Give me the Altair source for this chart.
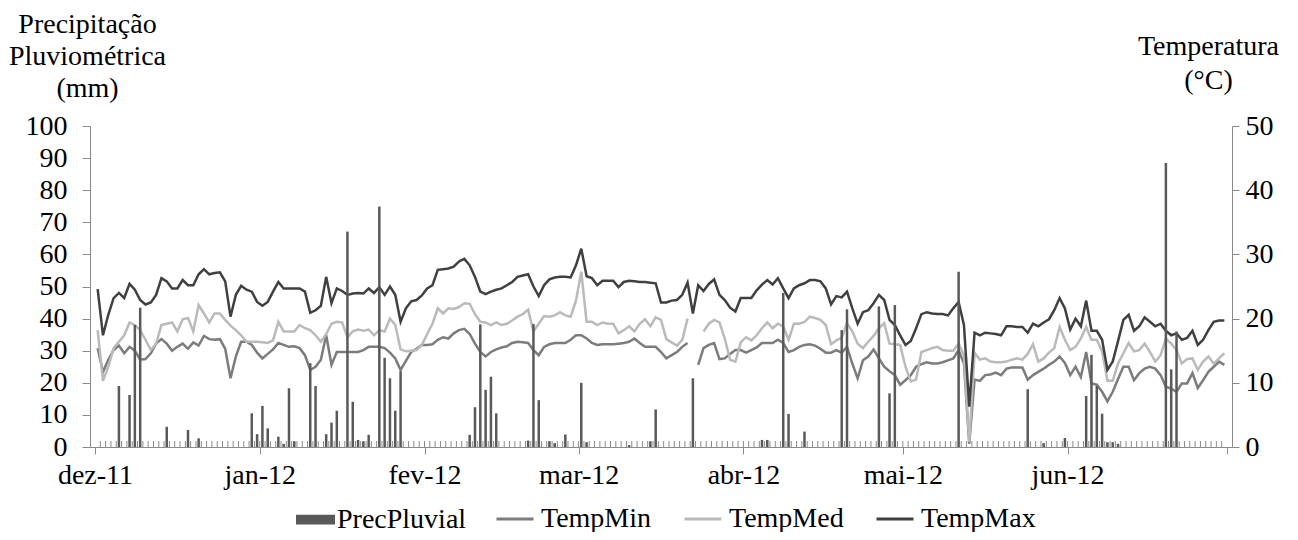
import altair as alt
import pandas as pd

# ---- data (daily, 2011-12-01 .. 2012-06-30) ----
tmax = [
    24.6, 17.4, 20.6, 23.2, 24.0, 23.2, 25.4, 24.5, 22.9, 22.2,
    22.5, 23.7, 26.3, 25.8, 24.7, 24.7, 26.0, 25.2, 25.2, 26.9,
    27.7, 26.9, 27.1, 27.2, 25.8, 20.3, 23.7, 25.1, 24.5, 24.2,
    22.6, 22.0, 22.6, 24.2, 25.7, 24.7, 24.7, 24.7, 24.7, 24.2,
    20.9, 21.3, 22.0, 26.5, 22.4, 24.7, 24.3, 23.7, 23.9, 24.0,
    23.9, 24.7, 24.0, 24.9, 23.7, 25.0, 23.7, 19.5, 21.6, 22.7,
    22.9, 23.6, 24.7, 25.2, 27.6, 27.7, 27.8, 28.1, 28.9, 29.3,
    28.3, 26.5, 24.2, 23.8, 24.2, 24.5, 24.7, 25.2, 25.7, 26.5,
    26.7, 26.9, 25.0, 23.5, 25.2, 26.1, 26.4, 26.5, 26.5, 26.4,
    28.3, 30.9, 26.6, 26.3, 25.2, 25.9, 25.9, 25.9, 24.9, 25.7,
    25.9, 25.8, 25.7, 25.7, 25.6, 25.5, 22.5, 22.5, 22.8, 22.9,
    23.7, 25.6, 20.8, 25.2, 24.3, 25.4, 26.1, 23.7, 22.9, 21.7,
    21.1, 23.2, 23.2, 23.2, 24.4, 25.3, 26.0, 25.3, 26.3, 24.7,
    23.2, 24.7, 25.2, 25.5, 26.0, 26.0, 25.8, 24.7, 22.2, 23.5,
    23.3, 24.2, 21.6, 19.2, 21.0, 21.3, 22.4, 23.7, 22.9, 19.8,
    19.0, 17.4, 15.9, 16.5, 18.5, 20.7, 21.0, 20.8, 20.7, 20.7,
    20.5, 21.6, 22.6, 19.0, 6.3, 17.8, 17.4, 17.8, 17.7, 17.6,
    17.4, 18.8, 18.8, 18.7, 18.7, 17.8, 19.2, 18.8, 19.4, 19.9,
    21.3, 23.2, 21.6, 18.3, 20.0, 18.8, 22.8, 18.1, 18.1, 16.7,
    12.0, 13.3, 16.5, 19.8, 20.6, 18.1, 18.8, 20.2, 19.5, 18.8,
    19.2, 18.1, 17.4, 17.7, 16.7, 17.0, 18.1, 15.9, 16.7, 18.2,
    19.5, 19.7, 19.7,
]
tmed = [
    18.2, 10.3, 12.5, 15.4, 16.4, 17.4, 19.4, 19.0, 18.2, 16.7,
    15.1, 16.1, 19.0, 19.2, 19.4, 18.0, 19.9, 20.1, 18.0, 22.1,
    20.8, 19.4, 20.8, 20.8, 19.8, 18.9, 18.2, 17.4, 16.4, 16.4,
    16.4, 16.3, 16.2, 16.6, 19.5, 18.0, 18.0, 18.0, 19.0, 18.5,
    18.2, 17.4, 16.4, 17.6, 19.2, 19.5, 19.4, 17.1, 18.0, 18.3,
    18.1, 18.3, 17.4, 18.2, 18.0, 20.0, 19.0, 15.2, 14.9, 15.0,
    15.1, 15.9, 17.6, 19.2, 21.6, 20.8, 21.6, 21.5, 21.8, 22.4,
    22.3, 20.7, 19.5, 19.4, 19.0, 19.4, 19.0, 19.2, 19.7, 20.3,
    20.7, 21.4, 18.0, 19.2, 20.4, 20.3, 20.5, 21.0, 20.5, 20.3,
    22.8, 27.3, 19.5, 19.5, 19.0, 19.4, 19.2, 19.2, 17.7, 18.2,
    18.8, 18.0, 19.2, 19.9, 18.8, 20.2, 19.8, 16.8, 16.3, 15.8,
    16.7, 20.0, None, None, 18.0, 19.2, 19.8, 19.4, 16.9, 13.6,
    13.3, 16.3, 17.1, 16.6, 17.4, 18.5, 19.4, 18.5, 19.2, 18.8,
    16.7, 19.2, 19.2, 19.5, 20.3, 20.1, 19.8, 19.0, 16.0, 16.6,
    17.0, 19.3, 18.0, 16.1, 15.4, 16.4, 17.3, 18.5, 19.3, 16.1,
    16.0, 15.9, 12.5, 10.2, 10.5, 14.8, 15.1, 15.4, 15.6, 15.1,
    15.0, 15.0, 16.1, 14.3, 0.8, 14.7, 13.6, 13.8, 13.3, 13.2,
    13.2, 13.3, 13.6, 13.8, 13.6, 14.5, 16.0, 13.3, 13.8, 14.7,
    15.4, 18.7, 16.7, 15.1, 15.6, 16.9, 18.7, 16.7, 16.7, 14.9,
    10.3, 10.3, 13.0, 14.6, 16.2, 14.9, 15.1, 16.1, 14.8, 13.3,
    14.3, 16.9, 16.1, 15.1, 13.0, 13.7, 13.8, 12.0, 13.3, 14.1,
    13.0, 13.8, 14.6,
]
tmin = [
    15.4, 11.7, 13.6, 15.1, 15.8, 14.6, 15.6, 15.0, 13.6, 13.7,
    14.6, 16.1, 16.8, 16.1, 15.0, 15.6, 16.1, 15.3, 16.3, 15.8,
    17.3, 16.8, 16.7, 16.8, 15.3, 10.7, 14.1, 16.4, 16.4, 15.9,
    14.7, 13.8, 14.5, 15.2, 16.2, 15.9, 15.6, 15.7, 15.4, 14.3,
    12.0, 12.5, 13.6, 17.4, 12.8, 14.8, 14.8, 14.8, 14.8, 14.8,
    15.1, 15.6, 15.6, 15.6, 15.4, 14.7, 13.8, 12.0, 13.4, 14.8,
    15.3, 15.9, 15.9, 16.0, 16.7, 17.1, 16.9, 17.7, 18.2, 18.4,
    17.6, 16.1, 14.8, 14.1, 14.8, 15.2, 15.5, 15.7, 16.2, 16.4,
    16.3, 16.2, 15.1, 14.3, 15.6, 16.0, 16.2, 16.2, 16.2, 16.7,
    17.4, 17.4, 16.9, 16.2, 15.9, 16.0, 16.0, 16.0, 16.1, 16.2,
    16.4, 16.9, 16.2, 15.6, 15.6, 15.6, 14.8, 13.8, 14.3, 14.8,
    15.6, 16.2, None, 12.8, 15.4, 15.9, 16.2, 13.7, 13.8, 14.5,
    15.1, 15.1, 14.7, 15.1, 15.5, 16.2, 16.2, 16.2, 16.7, 16.2,
    14.8, 15.1, 15.6, 15.9, 16.0, 15.8, 15.3, 14.7, 14.7, 15.1,
    14.7, 15.6, 13.0, 10.7, 13.5, 14.1, 15.2, 13.8, 12.5, 11.8,
    11.2, 9.7, 10.4, 11.2, 12.5, 12.9, 13.2, 13.0, 13.0, 13.2,
    13.5, 13.8, 15.1, 13.0, 0.5, 10.5, 10.3, 11.2, 11.3, 11.6,
    11.2, 12.2, 12.4, 12.4, 12.4, 10.5, 11.2, 11.7, 12.2, 12.8,
    13.3, 14.1, 13.1, 11.2, 12.5, 10.9, 14.8, 9.9, 9.7, 8.6,
    7.1, 8.6, 10.6, 12.5, 12.5, 10.4, 11.5, 12.2, 12.5, 12.2,
    11.2, 9.4, 9.1, 8.6, 9.9, 9.9, 11.5, 9.2, 10.4, 11.7,
    12.5, 13.3, 12.8,
]
prec = [
    0, 0, 0, 0, 19.0, 0, 16.2, 38.0, 43.4, 0,
    0, 0, 0, 6.3, 0, 0, 0, 5.3, 0, 2.7,
    0, 0, 0, 0, 0, 0, 0, 0, 0, 10.5,
    4.0, 12.8, 5.8, 0, 3.2, 1.0, 18.3, 1.8, 0, 0,
    26.1, 19.0, 0, 4.0, 7.6, 11.3, 0, 67.1, 14.1, 2.2,
    1.8, 3.8, 0, 74.9, 27.8, 21.4, 11.3, 23.6, 0, 0,
    0, 0, 0, 0, 0, 0, 0, 0, 0, 0,
    3.8, 12.4, 38.2, 17.8, 21.9, 10.5, 0, 0, 0, 0,
    0, 2.0, 38.3, 14.6, 0, 1.8, 1.2, 0, 3.9, 0,
    0, 20.0, 1.5, 0, 0, 0, 0, 0, 0, 0,
    0.6, 0, 0, 0, 1.8, 11.7, 0, 0, 0, 0,
    0, 0, 21.4, 0, 0, 0, 0, 0, 0, 0,
    0, 0, 0, 0, 0, 2.2, 2.2, 0, 0, 48.0,
    10.3, 0, 0, 4.8, 0, 0, 0, 0, 0, 0,
    36.4, 42.9, 0, 0, 0, 0, 0, 43.8, 0, 16.7,
    44.2, 0, 0, 0, 0, 0, 0, 0, 0, 0,
    0, 0, 54.6, 0, 0, 0, 0, 0, 0, 0,
    0, 0, 0, 0, 0, 18.0, 0, 0, 1.2, 0,
    0, 0, 2.8, 0, 0, 0, 15.9, 28.7, 19.0, 10.4,
    1.5, 1.5, 1.0, 0, 0, 0, 0, 0, 0, 0,
    0, 88.5, 24.2, 36.0, 0, 0, 0, 0, 0, 0,
    0, 0, 0,
]
temp_series = ["TempMin", "TempMed", "TempMax"]
temp_colors = ["#7c7c7c", "#bababa", "#404040"]
bar_series = ["PrecPluvial"]
bar_colors = ["#595959"]
left_ticks = list(range(0, 101, 10))
right_ticks = list(range(0, 51, 10))
left_title = ["Precipitação", "Pluviométrica", "(mm)"]
right_title = ["Temperatura", "\u00a0\u00a0\u00a0(°C)"]

FONT = "Liberation Serif"
FS = 28
AXC = "#8a8a8a"

dates = pd.date_range("2011-12-01", periods=len(tmax), freq="D")
noon = dates + pd.Timedelta(hours=12)

bars_df = pd.DataFrame({"date": noon, "prec": prec, "serie": bar_series[0]})
bars_df = bars_df[bars_df["prec"] > 0]

temp_df = pd.DataFrame({"date": noon, "TempMin": tmin, "TempMed": tmed, "TempMax": tmax})
temp_df = temp_df.melt("date", var_name="serie", value_name="temp")
temp_df["order"] = temp_df["serie"].map({s: i for i, s in enumerate(temp_series)})

minor_df = pd.DataFrame({"date": dates[1:]})

month_starts = [
    alt.DateTime(year=2011, month=12, date=1),
    alt.DateTime(year=2012, month=1, date=1),
    alt.DateTime(year=2012, month=2, date=1),
    alt.DateTime(year=2012, month=3, date=1),
    alt.DateTime(year=2012, month=4, date=1),
    alt.DateTime(year=2012, month=5, date=1),
    alt.DateTime(year=2012, month=6, date=1),
    alt.DateTime(year=2012, month=7, date=1),
]
xscale = alt.Scale(domain=[month_starts[0], month_starts[-1]])
label_expr = (
    "month(datum.value) == 6 ? '' : "
    "['jan','fev','mar','abr','mai','jun','jul','ago','set','out','nov','dez'][month(datum.value)]"
    " + '-' + timeFormat(datum.value, '%y')"
)
xaxis = alt.Axis(
    values=month_starts, labelExpr=label_expr, title=None, grid=False,
    tickSize=7, tickColor=AXC, domainColor=AXC, labelPadding=7,
    labelFlush=False, labelOverlap=False, labelFont=FONT, labelFontSize=FS,
    labelColor="black",
)
X = alt.X("date:T", scale=xscale, axis=xaxis)

lines = alt.Chart(temp_df).mark_line(strokeWidth=2.5).encode(
    x=X,
    y=alt.Y(
        "temp:Q",
        scale=alt.Scale(domain=[0, 50]),
        axis=alt.Axis(
            orient="right", values=right_ticks, grid=False, tickSize=7,
            tickColor=AXC, domainColor=AXC, labelPadding=6, labelFont=FONT,
            labelFontSize=FS, labelColor="black", title=right_title,
            titleAngle=0, titleX=-24, titleY=-72, titleAlign="center",
            titleBaseline="alphabetic", titleFont=FONT, titleFontSize=FS,
            titleFontWeight="normal", titleLineHeight=34, titleColor="black",
        ),
    ),
    stroke=alt.Stroke(
        "serie:N",
        scale=alt.Scale(domain=temp_series, range=temp_colors),
        legend=alt.Legend(
            title=None, orient="none", direction="horizontal", legendX=405,
            legendY=373, symbolType="stroke", symbolSize=1369,
            symbolStrokeWidth=3, labelFont=FONT, labelFontSize=FS,
            labelColor="black", columnPadding=26, labelOffset=6,
        ),
    ),
    detail="serie:N",
    order="order:Q",
)

bars = alt.Chart(bars_df).mark_bar(size=2.5).encode(
    x=X,
    y=alt.Y(
        "prec:Q",
        scale=alt.Scale(domain=[0, 100]),
        axis=alt.Axis(
            orient="left", values=left_ticks, grid=False, tickSize=8,
            tickColor=AXC, domainColor=AXC, labelPadding=15, labelFont=FONT,
            labelFontSize=FS, labelColor="black", title=left_title,
            titleAngle=0, titleX=-3, titleY=-94, titleAlign="center",
            titleBaseline="alphabetic", titleFont=FONT, titleFontSize=FS,
            titleFontWeight="normal", titleLineHeight=32, titleColor="black",
        ),
    ),
    fill=alt.Fill(
        "serie:N",
        scale=alt.Scale(domain=bar_series, range=bar_colors),
        legend=alt.Legend(
            title=None, orient="none", direction="horizontal", legendX=206,
            legendY=374, symbolType="M-1,-0.25L1,-0.25L1,0.25L-1,0.25Z",
            symbolSize=1521, symbolStrokeWidth=0, labelFont=FONT,
            labelFontSize=FS, labelColor="black", labelOffset=2,
        ),
    ),
)

minor = alt.Chart(minor_df).mark_rule(color=AXC, strokeWidth=1).encode(
    x=X, y=alt.value(321), y2=alt.value(315)
)

chart = (
    alt.layer(lines, bars, minor)
    .resolve_scale(y="independent")
    .properties(
        width=1142, height=321,
        padding={"left": 82, "top": 118, "right": 58, "bottom": 85},
        autosize=alt.AutoSizeParams(type="none"),
    )
    .configure_view(stroke=None)
)

chart.save("out.html", embed_options={"renderer": "svg", "actions": False})
